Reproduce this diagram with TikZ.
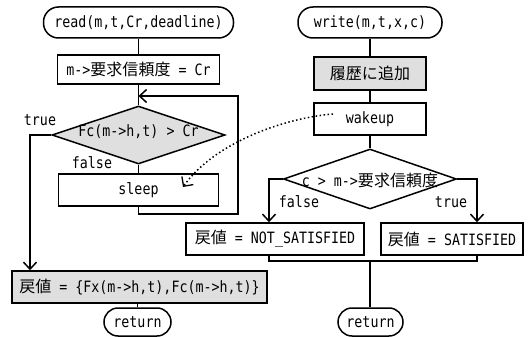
\documentclass[tikz,border=0pt]{standalone}
\usepackage{fontspec}
\setmainfont{DejaVu Sans Mono}[FakeStretch=0.852]
\newfontfamily\jp{Noto Sans CJK JP}[Scale=1.026]
\usetikzlibrary{arrows.meta,shapes.geometric}
\begin{document}
\begin{tikzpicture}[x=1pt,y=-1pt,
  every node/.style={font=\fontsize{15.6}{18}\selectfont, inner sep=0pt},
  ln/.style={line width=1.5pt},
  arr/.style={ln,-{Straight Barb[length=7pt,width=13pt,line width=1.5pt]}},
  boxn/.style={draw, line width=1.5pt, rectangle},
  shaded/.style={fill=gray!25},
  term/.style={draw, line width=1.5pt, rounded corners=15pt},
  dec/.style={diamond, draw, line width=1.5pt, inner sep=0pt, fill=gray!25},
  dots/.style={line width=1.5pt, dash pattern=on 1.5pt off 2.5pt,
    -{Straight Barb[length=7pt,width=14pt,line width=1.3pt]}}]
\useasboundingbox (0,0) rectangle (528,337);

% ---- left column (read)
\node[term, minimum width=190pt, minimum height=31pt] (readT) at (138.5,22.5) {read(m,t,Cr,deadline)};
\node[boxn, minimum width=162pt, minimum height=29pt] (setB) at (138.5,69.5) {m->{\jp 要求信頼度} = Cr};
\node[dec, minimum width=173pt, minimum height=58pt] (d1) at (138.5,135) {};
\node (d1t) at (138.5,132) {Fc(m->h,t) > Cr};
\node[boxn, minimum width=160pt, minimum height=32pt] (sleep) at (138.5,190) {sleep};
\node[boxn, shaded, minimum width=255pt, minimum height=32pt] (fin) at (139.5,287) {{\jp 戻値} = \{Fx(m->h,t),Fc(m->h,t)\}};
\node[term, rounded corners=14pt, minimum width=67pt, minimum height=28pt] (retL) at (137.5,322) {return};

\node (lt1) at (40,120) {true};
\node (lf1) at (92,163) {false};

\draw[ln] (readT) -- (setB);
\draw[ln] (setB) -- (d1);
\draw[ln] (d1) -- (sleep);
\coordinate (lb) at (238,214);
\coordinate (ltop) at (238,96);
\draw[arr] (sleep.south) |- (lb) -- (ltop) -- (ltop -| d1.north);
\coordinate (tl) at (30,135);
\draw[arr] (d1.west) -- (tl) -- (tl |- fin.north);
\draw[ln] (fin.south -| retL.north) -- (retL.north);

% ---- right column (write)
\node[term, minimum width=144pt, minimum height=31pt] (writeT) at (370,22.5) {write(m,t,x,c)};
\node[boxn, shaded, minimum width=112pt, minimum height=33pt] (hist) at (370,73.5) {\jp 履歴に追加};
\node[boxn, minimum width=112pt, minimum height=32pt] (wake) at (370,119) {wakeup};
\node[dec, fill=white, minimum width=173pt, minimum height=60pt] (d2) at (370,179) {};
\node (d2t) at (370,180) {c > m->{\jp 要求信頼度}};
\node[boxn, minimum width=178pt, minimum height=32pt] (ns) at (275,239) {{\jp 戻値} = NOT\_SATISFIED};
\node[boxn, minimum width=142pt, minimum height=32pt] (sat) at (452,239) {{\jp 戻値} = SATISFIED};
\node[term, rounded corners=14pt, minimum width=65pt, minimum height=28pt] (retR) at (370.5,322) {return};

\node (lf2) at (299,202) {false};
\node (lt2) at (451,202) {true};

\draw[ln] (writeT) -- (hist);
\draw[ln] (hist) -- (wake);
\draw[ln] (wake) -- (d2);
\coordinate (fl) at (269,179);
\coordinate (tr) at (477,179);
\draw[arr] (d2.west) -- (fl) -- (fl |- ns.north);
\draw[arr] (d2.east) -- (tr) -- (tr |- sat.north);
\coordinate (mb) at (370,261);
\draw[ln] (ns.south -| fl) -- (fl |- mb) -- (tr |- mb) -- (sat.south -| tr);
\draw[ln] (mb) -- (retR.north -| mb);

% ---- dotted wakeup signal
\coordinate (ds) at (333,114);
\coordinate (de) at (183,187);
\draw[dots] (ds) .. controls (285,118) and (215,142) .. (de);
\end{tikzpicture}
\end{document}
